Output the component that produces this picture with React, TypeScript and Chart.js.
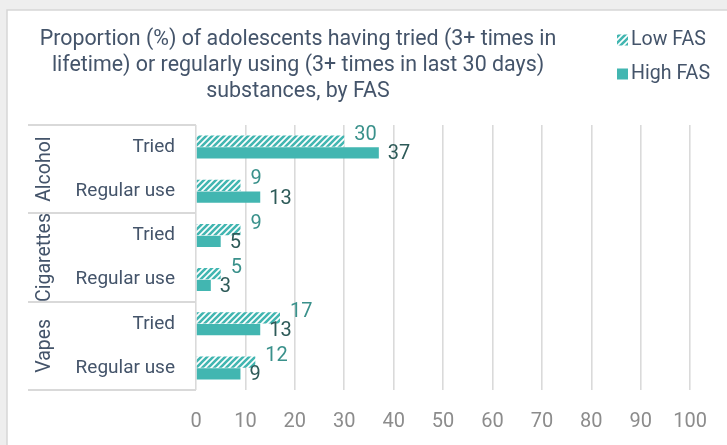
import React, { useEffect, useRef } from "react";
import { Chart, registerables } from "chart.js";

Chart.register(...registerables);

const categories = ["Tried", "Regular use", "Tried", "Regular use", "Tried", "Regular use"];
const groups = ["Alcohol", "Cigarettes", "Vapes"];
const groupSize = 2;
const lowFAS = [30, 9, 9, 5, 17, 12];
const highFAS = [37, 13, 5, 3, 13, 9];
const seriesNames = ["Low FAS", "High FAS"];
const titleLines = [
  "Proportion (%) of adolescents having tried (3+ times in",
  "lifetime) or regularly using (3+ times in last 30 days)",
  "substances, by FAS",
];
const xMin = 0;
const xMax = 100;
const xStep = 10;

const TEAL = "#42b6b1";
const TEXT = "#44546a";
const FONT = "Roboto, 'Noto Sans', sans-serif";

function makeHatch(): CanvasPattern | string {
  const s = 6;
  const c = document.createElement("canvas");
  c.width = s;
  c.height = s;
  const g = c.getContext("2d");
  if (!g) return TEAL;
  g.fillStyle = "#ffffff";
  g.fillRect(0, 0, s, s);
  g.strokeStyle = TEAL;
  g.lineWidth = 2.6;
  g.beginPath();
  g.moveTo(-1, s + 1);
  g.lineTo(s + 1, -1);
  g.moveTo(-1, 1);
  g.lineTo(1, -1);
  g.moveTo(s - 1, s + 1);
  g.lineTo(s + 1, s - 1);
  g.stroke();
  const p = g.createPattern(c, "repeat");
  return p || TEAL;
}

export default function App() {
  const ref = useRef<HTMLCanvasElement | null>(null);

  useEffect(() => {
    document.body.style.margin = "0";
    document.body.style.overflow = "hidden";
    const canvas = ref.current;
    if (!canvas) return;
    const hatch = makeHatch();

    const framePlugin = {
      id: "frame",
      beforeDraw(chart: any) {
        const { ctx, width, height } = chart;
        ctx.save();
        ctx.fillStyle = "#eeeeee";
        ctx.fillRect(0, 0, width, height);
        ctx.fillStyle = "#ffffff";
        ctx.fillRect(7, 10, width - 7, height - 10);
        ctx.strokeStyle = "#d6d6d6";
        ctx.lineWidth = 1.5;
        ctx.beginPath();
        ctx.moveTo(7, height);
        ctx.lineTo(7, 10);
        ctx.lineTo(width, 10);
        ctx.stroke();
        ctx.restore();
      },
    };

    const tablePlugin = {
      id: "table",
      afterDraw(chart: any) {
        const { ctx } = chart;
        const y = chart.scales.y;
        const left = 28;
        const right = chart.chartArea.left;
        ctx.save();
        ctx.strokeStyle = "#d9d9d9";
        ctx.lineWidth = 2;
        for (let gi = 0; gi <= groups.length; gi++) {
          const py = Math.round(y.getPixelForValue(gi * groupSize - 0.5));
          ctx.beginPath();
          ctx.moveTo(left, py);
          ctx.lineTo(right, py);
          ctx.stroke();
        }
        ctx.fillStyle = TEXT;
        ctx.font = `19.5px ${FONT}`;
        ctx.textAlign = "center";
        ctx.textBaseline = "middle";
        groups.forEach((g, gi) => {
          const cy = y.getPixelForValue(gi * groupSize + (groupSize - 1) / 2);
          ctx.save();
          ctx.translate(45, cy);
          ctx.rotate(-Math.PI / 2);
          ctx.fillText(g, 0, 0);
          ctx.restore();
        });

        // title
        ctx.font = `21.4px ${FONT}`;
        titleLines.forEach((t, i) => ctx.fillText(t, 298, 40 + i * 26));

        // legend
        ctx.textAlign = "left";
        ctx.font = `19.6px ${FONT}`;
        const items = [
          { fill: hatch, label: seriesNames[0], y: 40 },
          { fill: TEAL, label: seriesNames[1], y: 74 },
        ];
        items.forEach((it) => {
          ctx.fillStyle = it.fill as any;
          ctx.fillRect(617, it.y - 5.5, 11, 11);
          ctx.fillStyle = TEXT;
          ctx.fillText(it.label, 631, it.y);
        });
        ctx.restore();
      },
    };

    const labelPlugin = {
      id: "valueLabels",
      afterDatasetsDraw(chart: any) {
        const { ctx } = chart;
        ctx.save();
        ctx.font = `20px ${FONT}`;
        ctx.textAlign = "left";
        ctx.textBaseline = "middle";
        chart.data.datasets.forEach((ds: any, di: number) => {
          const meta = chart.getDatasetMeta(di);
          meta.data.forEach((el: any, i: number) => {
            const v = ds.data[i];
            if (di === 0) {
              ctx.fillStyle = "#3a918b";
              ctx.fillText(String(v), el.x + 10, el.y - 6);
            } else {
              ctx.fillStyle = "#2d5a58";
              ctx.fillText(String(v), el.x + 9, el.y + 1.5);
            }
          });
        });
        ctx.restore();
      },
    };

    const chart = new Chart(canvas, {
      type: "bar",
      data: {
        labels: categories,
        datasets: [
          {
            label: seriesNames[0],
            data: lowFAS,
            backgroundColor: hatch as any,
            borderWidth: 0,
            categoryPercentage: 0.53,
            barPercentage: 0.96,
          },
          {
            label: seriesNames[1],
            data: highFAS,
            backgroundColor: TEAL,
            borderWidth: 0,
            categoryPercentage: 0.53,
            barPercentage: 0.96,
          },
        ],
      },
      options: {
        indexAxis: "y",
        animation: false,
        responsive: false,
        maintainAspectRatio: false,
        devicePixelRatio: 1,
        layout: { padding: { top: 125, right: 27, bottom: 0, left: 0 } },
        plugins: {
          legend: { display: false },
          title: { display: false },
          tooltip: { enabled: false },
        },
        scales: {
          x: {
            min: xMin,
            max: xMax,
            ticks: {
              stepSize: xStep,
              color: "#8c8c8c",
              font: { family: FONT, size: 20 },
              padding: 20,
            },
            grid: { color: "#dadada", lineWidth: 1.6, drawTicks: false },
            border: { display: false },
            afterFit(scale: any) {
              scale.height = 55;
            },
          },
          y: {
            ticks: {
              color: TEXT,
              font: { family: FONT, size: 19 },
              padding: 21,
            },
            grid: { display: false, drawTicks: false },
            border: { display: false },
            afterFit(scale: any) {
              scale.width = 196;
            },
          },
        },
      },
      plugins: [framePlugin, tablePlugin, labelPlugin],
    });

    return () => chart.destroy();
  }, []);

  return <canvas ref={ref} width={727} height={445} style={{ display: "block" }} />;
}
